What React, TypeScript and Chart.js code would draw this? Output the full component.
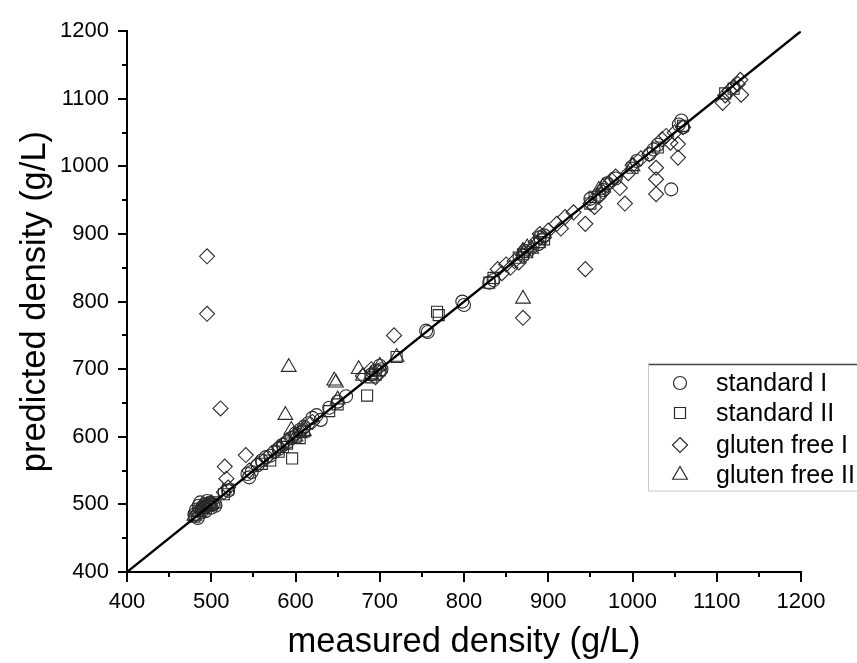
import React, { useEffect, useRef } from "react";
import { Chart, registerables } from "chart.js";

Chart.register(...registerables);

// ---- data ----
const majorTicks = [400, 500, 600, 700, 800, 900, 1000, 1100, 1200];
const minorTicks = [450, 550, 650, 750, 850, 950, 1050, 1150];
const identityLine: [number, number][] = [[400, 400], [1200, 1200]];

const standardI: [number, number][] = [
  [480, 485], [482, 492], [485, 498], [487, 503], [490, 495], [492, 500], [495, 505], [497, 498],
  [500, 495], [484, 480], [488, 488], [493, 490], [498, 502], [502, 500], [505, 498],
  [520, 520], [543, 545], [545, 540], [548, 548], [555, 558], [560, 565], [565, 570], [570, 572],
  [575, 578], [580, 582], [585, 588], [590, 592], [595, 598], [600, 605], [605, 610], [610, 615],
  [615, 620], [620, 628], [625, 632], [630, 625], [640, 643], [650, 652], [660, 660], [690, 692],
  [695, 698], [700, 705], [702, 700], [755, 757], [757, 755], [800, 795], [798, 800], [830, 828],
  [835, 832], [870, 868], [872, 875], [888, 885], [890, 895], [895, 898], [950, 952], [960, 958],
  [965, 965], [970, 975], [980, 982], [1005, 1008], [1020, 1018], [1025, 1025], [1030, 1032],
  [1046, 966], [1055, 1062], [1058, 1068], [1060, 1058],
];

const standardII: [number, number][] = [
  [480, 482], [485, 490], [490, 495], [495, 498], [500, 500], [505, 503], [515, 515], [520, 522],
  [560, 560], [570, 565], [580, 578], [585, 585], [590, 590], [596, 568], [600, 600], [605, 598],
  [610, 608], [640, 638], [650, 648], [685, 661], [690, 688], [695, 692], [700, 698], [720, 718],
  [768, 785], [770, 780], [830, 828], [835, 835], [865, 865], [870, 870], [875, 873], [890, 888],
  [895, 892], [950, 945], [955, 955], [1000, 998], [1030, 1028], [1060, 1060], [1110, 1108],
  [1120, 1115],
];

const glutenFreeI: [number, number][] = [
  [482, 485], [487, 492], [490, 498], [495, 500], [500, 503], [495, 867], [495, 782], [511, 642],
  [516, 556], [518, 538], [515, 518], [520, 525], [541, 573], [545, 550], [555, 560], [565, 568],
  [580, 585], [590, 595], [600, 603], [610, 612], [620, 622], [680, 690], [690, 700], [695, 688],
  [700, 695], [717, 750], [840, 848], [845, 842], [850, 855], [855, 850], [860, 860], [865, 858],
  [870, 776], [880, 878], [885, 888], [890, 900], [895, 895], [900, 905], [910, 915], [915, 908],
  [920, 925], [930, 932], [944, 848], [944, 915], [950, 945], [955, 940], [960, 955], [965, 962],
  [970, 972], [975, 980], [980, 985], [991, 945], [985, 968], [995, 990], [1000, 1002],
  [1010, 1012], [1020, 1018], [1028, 959], [1028, 981], [1028, 998], [1035, 1040], [1040, 1045],
  [1045, 1035], [1054, 1013], [1054, 1033], [1050, 1050], [1060, 1058], [1107, 1094],
  [1110, 1105], [1115, 1112], [1120, 1118], [1125, 1122], [1129, 1106], [1128, 1128],
];

const glutenFreeII: [number, number][] = [
  [480, 483], [485, 488], [490, 492], [495, 497], [500, 500], [592, 703], [588, 632], [595, 610],
  [600, 600], [605, 605], [610, 608], [646, 683], [648, 680], [650, 655], [675, 700], [680, 690],
  [690, 692], [700, 705], [720, 718], [870, 804], [870, 875], [875, 880], [880, 878], [960, 965],
  [965, 970], [1000, 1000],
];

const legendLabels = ["standard I", "standard II", "gluten free I", "gluten free II"];
const legendStyles = ["circle", "rect", "rectRot", "triangle"];

const FONT = '"Liberation Sans", Arial, Helvetica, sans-serif';
const MARK = "#2a2a2a";

function toPts(a: [number, number][]) {
  return a.map(([x, y]) => ({ x, y }));
}

function drawMarker(ctx: CanvasRenderingContext2D, style: string, x: number, y: number) {
  ctx.beginPath();
  if (style === "circle") {
    ctx.arc(x, y, 6.5, 0, Math.PI * 2);
  } else if (style === "rect") {
    const h = 5.5;
    ctx.rect(x - h, y - h, 2 * h, 2 * h);
  } else if (style === "rectRot") {
    const r = 7.5;
    ctx.moveTo(x, y - r);
    ctx.lineTo(x + r, y);
    ctx.lineTo(x, y + r);
    ctx.lineTo(x - r, y);
    ctx.closePath();
  } else {
    const r = 8.5;
    ctx.moveTo(x, y - r);
    ctx.lineTo(x + r * Math.sin((2 * Math.PI) / 3), y - r * Math.cos((2 * Math.PI) / 3));
    ctx.lineTo(x + r * Math.sin((4 * Math.PI) / 3), y - r * Math.cos((4 * Math.PI) / 3));
    ctx.closePath();
  }
  ctx.stroke();
}

const axisTicksPlugin = {
  id: "axisTicks",
  afterDraw(chart: any) {
    const { ctx, scales, chartArea } = chart;
    const xs = scales.x;
    const ys = scales.y;
    ctx.save();
    ctx.strokeStyle = "#000";
    ctx.lineWidth = 2;
    ctx.beginPath();
    majorTicks.forEach((v) => {
      const px = Math.round(xs.getPixelForValue(v));
      ctx.moveTo(px, chartArea.bottom);
      ctx.lineTo(px, chartArea.bottom + 10);
      const py = Math.round(ys.getPixelForValue(v));
      ctx.moveTo(chartArea.left, py);
      ctx.lineTo(chartArea.left - 9, py);
    });
    minorTicks.forEach((v) => {
      const px = Math.round(xs.getPixelForValue(v));
      ctx.moveTo(px, chartArea.bottom);
      ctx.lineTo(px, chartArea.bottom + 5);
      const py = Math.round(ys.getPixelForValue(v));
      ctx.moveTo(chartArea.left, py);
      ctx.lineTo(chartArea.left - 5, py);
    });
    ctx.stroke();
    ctx.restore();
  },
};

const legendPlugin = {
  id: "customLegend",
  afterDraw(chart: any) {
    const { ctx, width } = chart;
    const left = 648;
    const top = 364;
    const bottom = 491;
    ctx.save();
    ctx.fillStyle = "#ffffff";
    ctx.fillRect(left, top, width - left, bottom - top);
    ctx.lineWidth = 1.5;
    ctx.strokeStyle = "#444";
    ctx.beginPath();
    ctx.moveTo(left, top + 0.5);
    ctx.lineTo(width, top + 0.5);
    ctx.stroke();
    ctx.lineWidth = 1;
    ctx.strokeStyle = "#c8c8c8";
    ctx.beginPath();
    ctx.moveTo(left + 0.5, top);
    ctx.lineTo(left + 0.5, bottom);
    ctx.lineTo(width, bottom);
    ctx.stroke();
    const rows = [383, 413, 445, 475];
    ctx.font = `25px ${FONT}`;
    ctx.textBaseline = "middle";
    ctx.textAlign = "left";
    legendLabels.forEach((lbl, i) => {
      ctx.strokeStyle = MARK;
      ctx.lineWidth = 1.2;
      drawMarker(ctx, legendStyles[i], 680, rows[i]);
      ctx.fillStyle = "#000";
      ctx.fillText(lbl, 716, rows[i] + 1);
    });
    ctx.restore();
  },
};

export default function App() {
  const ref = useRef<HTMLCanvasElement | null>(null);

  useEffect(() => {
    if (!ref.current) return;
    const ds = (label: string, data: [number, number][], pointStyle: string, radius: number) => ({
      type: "scatter" as const,
      label,
      data: toPts(data),
      pointStyle,
      pointRadius: radius,
      pointHoverRadius: radius,
      pointBorderColor: MARK,
      pointBackgroundColor: "rgba(255,255,255,0)",
      pointBorderWidth: 1.1,
      borderColor: MARK,
      backgroundColor: "rgba(255,255,255,0)",
      order: 1,
    });
    const chart = new Chart(ref.current, {
      type: "scatter",
      data: {
        datasets: [
          {
            type: "line",
            label: "y = x",
            data: toPts(identityLine),
            borderColor: "#000",
            borderWidth: 2.4,
            pointRadius: 0,
            fill: false,
            order: 0,
          } as any,
          ds(legendLabels[0], standardI, "circle", 6.5),
          ds(legendLabels[1], standardII, "rect", 7.8),
          ds(legendLabels[2], glutenFreeI, "rectRot", 7.5),
          ds(legendLabels[3], glutenFreeII, "triangle", 8.5),
        ],
      },
      options: {
        responsive: false,
        animation: false,
        events: [],
        layout: { padding: { top: 29, right: 56, left: 0, bottom: 0 } },
        plugins: {
          legend: { display: false },
          tooltip: { enabled: false },
        },
        scales: {
          x: {
            type: "linear",
            min: 400,
            max: 1200,
            afterFit: (s: any) => {
              s.height = 91;
            },
            afterBuildTicks: (s: any) => {
              s.ticks = majorTicks.map((v) => ({ value: v }));
            },
            grid: { display: false, drawTicks: false },
            border: { display: true, color: "#000", width: 2 },
            ticks: {
              color: "#000",
              padding: 17,
              maxRotation: 0,
              autoSkip: false,
              font: { family: FONT, size: 22 },
              callback: (v: any) => String(v),
            },
            title: {
              display: true,
              text: "measured density (g/L)",
              color: "#000",
              font: { family: FONT, size: 34.5 },
              padding: { top: 0, bottom: 0 },
            },
          },
          y: {
            type: "linear",
            min: 400,
            max: 1200,
            afterFit: (s: any) => {
              s.width = 127;
            },
            afterBuildTicks: (s: any) => {
              s.ticks = majorTicks.map((v) => ({ value: v }));
            },
            grid: { display: false, drawTicks: false },
            border: { display: true, color: "#000", width: 2 },
            ticks: {
              color: "#000",
              padding: 18,
              autoSkip: false,
              font: { family: FONT, size: 22 },
              callback: (v: any) => String(v),
            },
            title: {
              display: true,
              text: "predicted density (g/L)",
              color: "#000",
              font: { family: FONT, size: 34.5 },
              padding: { top: 15, bottom: 0 },
            },
          },
        },
      },
      plugins: [axisTicksPlugin, legendPlugin],
    } as any);
    return () => chart.destroy();
  }, []);

  return (
    <div style={{ position: "absolute", left: 0, top: 0, width: 857, height: 663, background: "#fff" }}>
      <canvas ref={ref} width={857} height={663} style={{ display: "block" }} />
    </div>
  );
}
